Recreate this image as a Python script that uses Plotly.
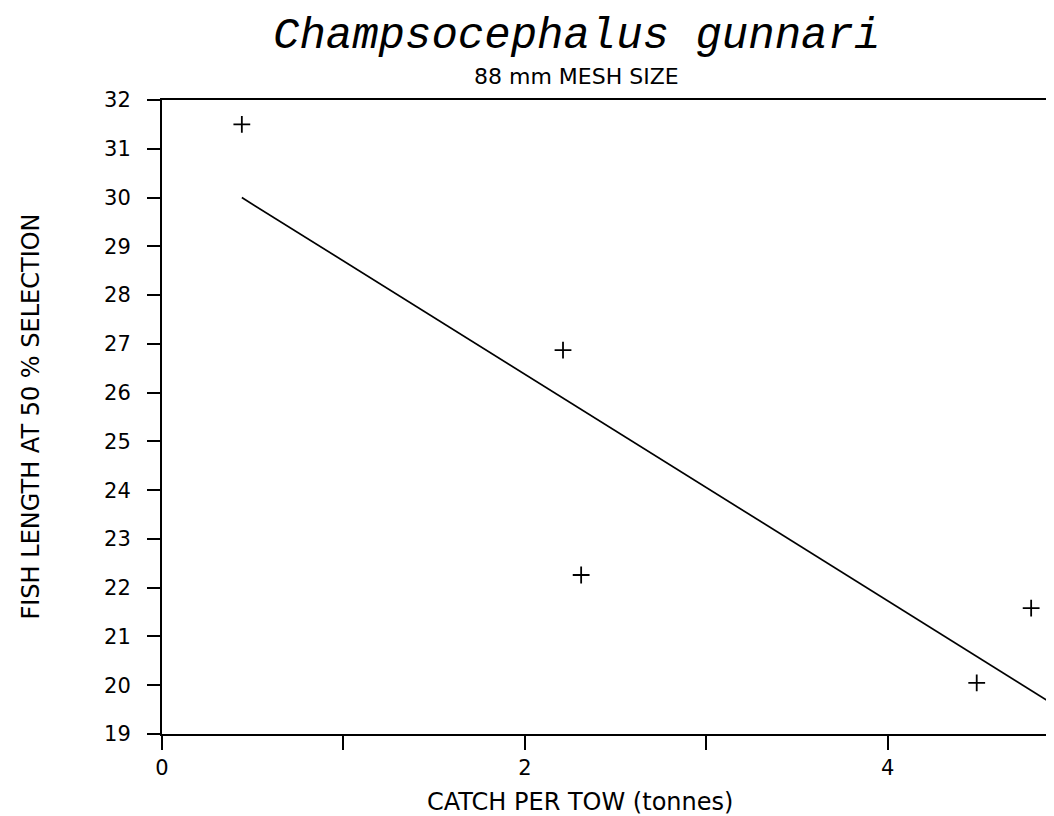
import plotly.graph_objects as go

# Data
catch_per_tow = [0.44, 2.21, 2.31, 4.49, 4.79]
fish_length_50 = [31.5, 26.87, 22.26, 20.05, 21.58]

fit_x = [0.44, 4.96]
fit_y = [30.0, 19.5]

y_ticks = list(range(19, 33))
x_tickvals = [0, 1, 2, 3, 4]
x_ticktext = ["0", "", "2", "", "4"]

title_text = "Champsocephalus gunnari"
subtitle_text = "88 mm MESH SIZE"
x_title = "CATCH PER TOW (tonnes)"
y_title = "FISH LENGTH AT 50 % SELECTION"

W, H = 1054, 816
L, R, T, B = 154, 0, 92, 90

sans = "DejaVu Sans"

fig = go.Figure()
fig.add_trace(go.Scatter(
    x=fit_x, y=fit_y, mode="lines",
    line=dict(color="black", width=1.7),
    showlegend=False, hoverinfo="skip"))
fig.add_trace(go.Scatter(
    x=catch_per_tow, y=fish_length_50, mode="markers",
    marker=dict(symbol="cross-thin", size=12, color="black",
                line=dict(color="black", width=1.8)),
    showlegend=False))

fig.update_layout(
    width=W, height=H,
    margin=dict(l=L, r=R, t=T, b=B),
    paper_bgcolor="white", plot_bgcolor="white",
    xaxis=dict(
        range=[0, 4.96], tickvals=x_tickvals, ticktext=x_ticktext,
        showgrid=False, zeroline=False,
        showline=True, linecolor="black", linewidth=2, mirror=True,
        ticks="outside", ticklen=14, tickwidth=2, tickcolor="black",
        tickfont=dict(family=sans, size=21, color="black"),
    ),
    yaxis=dict(
        range=[19, 32], tickvals=y_ticks,
        showgrid=False, zeroline=False,
        showline=True, linecolor="black", linewidth=2, mirror=False,
        ticks="outside", ticklen=13, tickwidth=2, tickcolor="black",
        ticklabelstandoff=12,
        tickfont=dict(family=sans, size=21, color="black"),
    ),
    annotations=[
        dict(text=title_text, xref="paper", yref="paper", x=0.46, y=1.1435,
             xanchor="center", yanchor="top", showarrow=False,
             font=dict(family="Liberation Mono", size=44, color="black", style="italic")),
        dict(text=subtitle_text, xref="paper", yref="paper", x=0.46, y=1.0375,
             xanchor="center", yanchor="middle", showarrow=False,
             font=dict(family=sans, size=22, color="black")),
        dict(text=x_title, xref="paper", yref="paper", x=0.4644, y=-0.108,
             xanchor="center", yanchor="middle", showarrow=False,
             font=dict(family=sans, size=24, color="black")),
        dict(text=y_title, xref="paper", yref="paper", x=-0.1461, y=0.5,
             xanchor="center", yanchor="middle", showarrow=False, textangle=-90,
             font=dict(family=sans, size=24, color="black")),
    ],
)

fig.write_html("out.html")
